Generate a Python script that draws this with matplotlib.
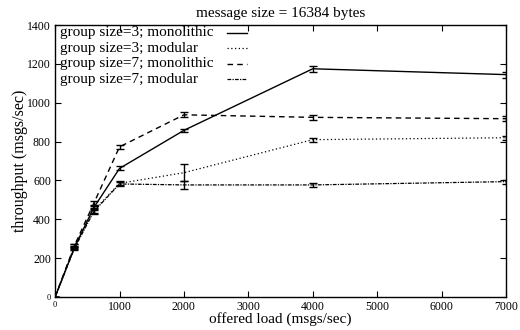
import numpy as np
import matplotlib
matplotlib.use('Agg')
import matplotlib.pyplot as plt

plt.rcParams['font.family'] = ['Liberation Serif', 'DejaVu Serif']

load = [0, 300, 600, 1000, 2000, 4000, 7000]

mono3 = [0, 255, 460, 662, 858, 1175, 1145]
mono3_err = [0, 10, 12, 10, 8, 15, 15]
mod3 = [0, 262, 445, 585, 640, 810, 820]
mod3_err = [0, 10, 12, 10, 45, 10, 10]
mono7 = [0, 265, 482, 773, 938, 925, 918]
mono7_err = [0, 10, 12, 10, 12, 12, 12]
mod7 = [0, 250, 440, 582, 577, 577, 594]
mod7_err = [0, 10, 12, 12, 20, 10, 10]

labels = ['group size=3; monolithic', 'group size=3; modular',
          'group size=7; monolithic', 'group size=7; modular']

fig = plt.figure(figsize=(5.2, 3.3), dpi=100)
ax = fig.add_axes([0.106, 0.1, 0.867, 0.824])

styles = [dict(ls='-', lw=1.0),
          dict(ls=(0, (1, 2)), lw=0.9),
          dict(ls=(0, (4, 3)), lw=1.0),
          dict(ls=(0, (3, 1, 1, 1)), lw=0.9)]
series = [(mono3, mono3_err), (mod3, mod3_err), (mono7, mono7_err), (mod7, mod7_err)]
for (y, e), st in zip(series, styles):
    ax.errorbar(load, y, yerr=e, color='black', ecolor='black', elinewidth=1,
                capsize=3, capthick=1, **st)

# gnuplot-style key: text left, sample line in a column on the right
for i, (lab, st) in enumerate(zip(labels, styles)):
    yk = 0.972 - i * 0.057
    ax.text(0.011, yk, lab, transform=ax.transAxes, fontsize=11,
            va='center', ha='left')
    ax.plot([0.381, 0.426], [yk, yk], transform=ax.transAxes, color='black', **st)

ax.set_xlim(0, 7000)
ax.set_ylim(0, 1400)
ax.set_xticks(range(0, 7001, 1000))
ax.set_yticks(range(0, 1401, 200))
ax.tick_params(direction='in', top=True, right=True, length=4, labelsize=8.5, pad=3)
for t in ax.get_xticklabels()[:1] + ax.get_yticklabels()[:1]:
    t.set_fontsize(6)
for s in ax.spines.values():
    s.set_linewidth(1.0)

ax.set_xlabel('offered load (msgs/sec)', fontsize=11, labelpad=-1)
ax.set_ylabel('throughput (msgs/sec)', fontsize=11.5, labelpad=-1)
ax.set_title('message size = 16384 bytes', fontsize=11, pad=6)

fig.savefig('out.png', dpi=100)
